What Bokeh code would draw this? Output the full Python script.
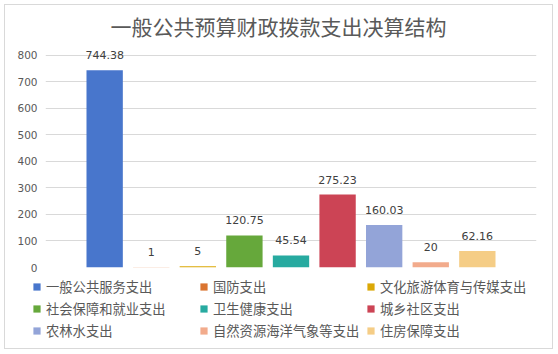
from bokeh.plotting import figure
from bokeh.models import (ColumnDataSource, FactorRange, Range1d, FixedTicker, LabelSet,
                          Title, Legend, LegendItem)
from bokeh.layouts import column
from bokeh.core.properties import value
from bokeh.embed import file_html
from bokeh.resources import INLINE

title_text = "一般公共预算财政拨款支出决算结构"
categories = ["一般公共服务支出", "国防支出", "文化旅游体育与传媒支出",
              "社会保障和就业支出", "卫生健康支出", "城乡社区支出",
              "农林水支出", "自然资源海洋气象等支出", "住房保障支出"]
values = [744.38, 1, 5, 120.75, 45.54, 275.23, 160.03, 20, 62.16]
colors = ["#4876CC", "#DA7430", "#DBA806", "#66A83B", "#27AAA0",
          "#CC4455", "#93A4D8", "#F2AB8C", "#F5CD86"]
y_ticks = [0, 100, 200, 300, 400, 500, 600, 700, 800]

CJK = "Noto Sans CJK SC"
LAT = "DejaVu Sans"

src = ColumnDataSource(dict(cat=categories, val=values, color=colors,
                            lab=[f"{v:g}" for v in values]))

# ---- main chart ----
p = figure(width=547, height=267,
           x_range=FactorRange(factors=categories, range_padding=0.77,
                               range_padding_units="absolute"),
           y_range=Range1d(0, 849),
           x_axis_location=None, title=None,
           output_backend="svg", toolbar_location=None,
           min_border_left=40, min_border_right=16,
           min_border_top=37, min_border_bottom=5)
p.frame_align = False
p.outline_line_color = None
p.background_fill_color = "white"
p.border_fill_color = "white"

p.xgrid.visible = False
p.ygrid.grid_line_color = "#D9D9D9"
p.ygrid.grid_line_width = 1
p.yaxis.ticker = FixedTicker(ticks=y_ticks)
p.yaxis.axis_line_color = None
p.yaxis.major_tick_line_color = None
p.yaxis.minor_tick_line_color = None
p.yaxis.major_tick_out = 0
p.yaxis.major_tick_in = 0
p.yaxis.major_label_standoff = 8
p.yaxis.major_label_text_font = LAT
p.yaxis.major_label_text_font_size = "10.5px"
p.yaxis.major_label_text_color = "#595959"

p.vbar(x="cat", top="val", width=0.78, fill_color="color",
       line_color=None, source=src)

labels = LabelSet(x="cat", y="val", text="lab", source=src,
                  text_align="center", text_baseline="alphabetic",
                  y_offset=11, text_font=value(LAT), text_font_size=value("11px"),
                  text_color=value("#404040"))
p.add_layout(labels)

p.add_layout(Title(text=title_text, text_font=CJK, text_font_size="21px",
                   text_color="#595959", text_font_style="normal",
                   align="left", offset=65, standoff=4), "above")

# ---- legend strip ----
q = figure(width=547, height=76,
           x_range=FactorRange(factors=categories),
           y_range=Range1d(10000, 10001),
           x_axis_location=None, y_axis_location=None, title=None,
           output_backend="svg", toolbar_location=None,
           min_border_left=0, min_border_right=0,
           min_border_top=0, min_border_bottom=0)
q.frame_align = False
q.outline_line_color = None
q.background_fill_color = "white"
q.border_fill_color = "white"
q.grid.visible = False
rq = q.vbar(x="cat", top="val", width=0.78, fill_color="color",
            line_color=None, source=src)

items = [LegendItem(label=c, renderers=[rq], index=i) for i, c in enumerate(categories)]
legend = Legend(items=items, location=(27, 8), orientation="horizontal",
                ncols=3, glyph_width=9, glyph_height=9, label_standoff=5,
                label_width=150, label_height=18, spacing=3, padding=0,
                margin=0, border_line_color=None, background_fill_alpha=0,
                label_text_font=CJK, label_text_font_size="13.3px",
                label_text_color="#595959")
q.add_layout(legend)

layout = column(p, q, spacing=0,
                styles={"margin-left": "4px", "margin-top": "4px",
                        "border": "1px solid #D9D9D9"})

open("out.html", "w").write(file_html(layout, INLINE))
